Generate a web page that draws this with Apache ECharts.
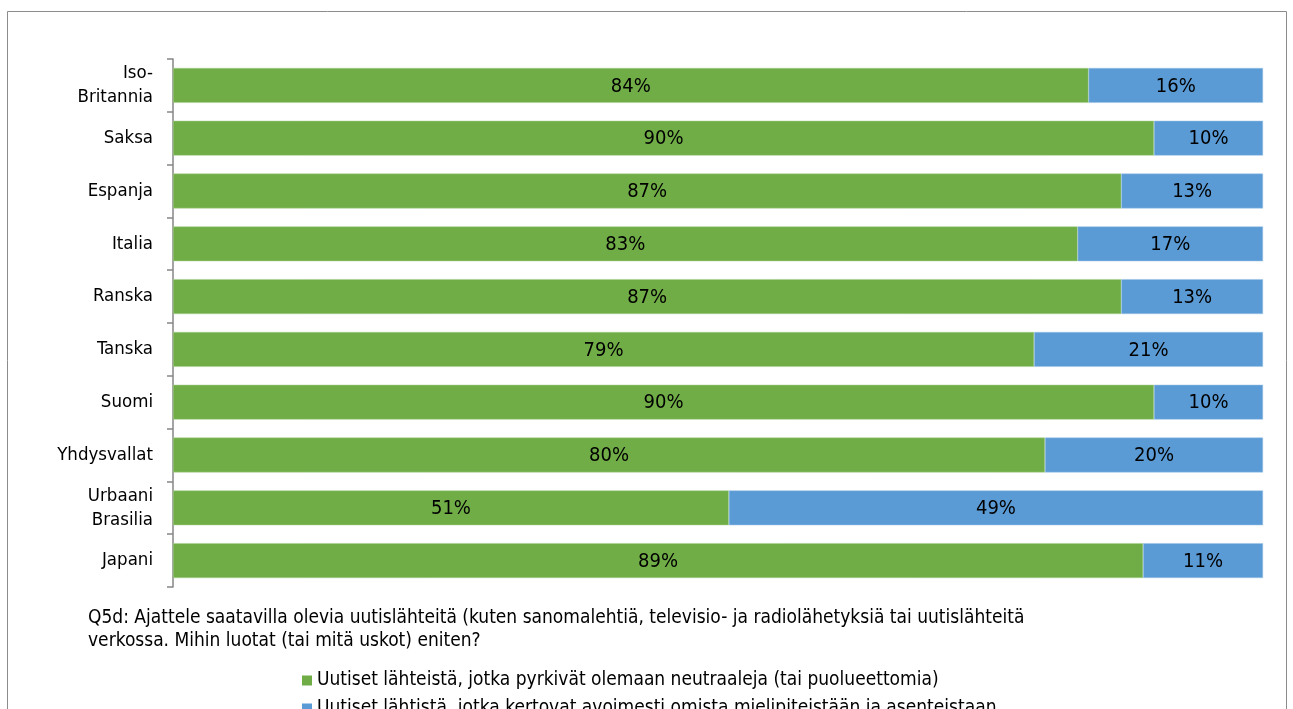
<!DOCTYPE html>
<html><head><meta charset="utf-8">
<script src="https://cdn.jsdelivr.net/npm/echarts@6/dist/echarts.min.js"></script>
<style>html,body{margin:0;padding:0;background:#fff}#c{width:1293px;height:709px}</style>
</head><body><div id="c"></div>
<script>
const categories = ["Iso-\nBritannia","Saksa","Espanja","Italia","Ranska","Tanska","Suomi","Yhdysvallat","Urbaani\nBrasilia","Japani"];
const neutral = [84,90,87,83,87,79,90,80,51,89];
const opinion = [16,10,13,17,13,21,10,20,49,11];
const seriesNames = ["Uutiset lähteistä, jotka pyrkivät olemaan neutraaleja (tai puolueettomia)","Uutiset lähtistä, jotka kertovat avoimesti omista mielipiteistään ja asenteistaan"];
const footnote = "Q5d: Ajattele saatavilla olevia uutislähteitä (kuten sanomalehtiä, televisio- ja radiolähetyksiä tai uutislähteitä\nverkossa. Mihin luotat (tai mitä uskot) eniten?";
const FONT = "'DejaVu Sans Condensed',sans-serif";
const chart = echarts.init(document.getElementById('c'));
const lbl = {show:true, position:'inside', color:'#000', fontSize:20, fontFamily:FONT, offset:[0,1], formatter:p=>p.value+'%'};
const legText = {fontSize:19, fontFamily:FONT, color:'#000'};
chart.setOption({
  animation:false,
  grid:{left:173, right:30, top:59, bottom:122},
  xAxis:{type:'value', min:0, max:100, show:false},
  yAxis:{type:'category', data:categories, inverse:true,
    axisLine:{show:true, lineStyle:{color:'#868686', width:1.5}},
    axisTick:{show:true, length:6, lineStyle:{color:'#868686', width:1.5}},
    axisLabel:{margin:20, color:'#000', fontSize:18.5, fontFamily:FONT, lineHeight:24, align:'right'}},
  legend:[
    {orient:'vertical', left:297, top:666, itemWidth:10, itemHeight:10, icon:'rect', itemGap:4,
     itemStyle:{borderWidth:0}, textStyle:legText, data:[seriesNames[0]]},
    {orient:'vertical', left:297, top:694, itemWidth:10, itemHeight:10, icon:'rect', itemGap:4,
     itemStyle:{borderWidth:0}, textStyle:legText, data:[seriesNames[1]]}
  ],
  series:[
    {name:seriesNames[0], type:'bar', stack:'s', data:neutral, barCategoryGap:'34%',
     itemStyle:{color:'#70AD47', borderColor:'#A9D08E', borderWidth:0.5}, label:lbl},
    {name:seriesNames[1], type:'bar', stack:'s', data:opinion, barCategoryGap:'34%',
     itemStyle:{color:'#5B9BD5', borderColor:'#9DC3E6', borderWidth:0.5}, label:lbl}
  ],
  graphic:[
    {type:'rect', shape:{x:7.5, y:11.5, width:1279, height:720}, style:{fill:'none', stroke:'#8c8c8c', lineWidth:1}, silent:true},
    {type:'text', left:88, top:607, style:{text:footnote, fontSize:19, fontFamily:FONT, fill:'#000', lineHeight:23}}
  ]
});
</script></body></html>
